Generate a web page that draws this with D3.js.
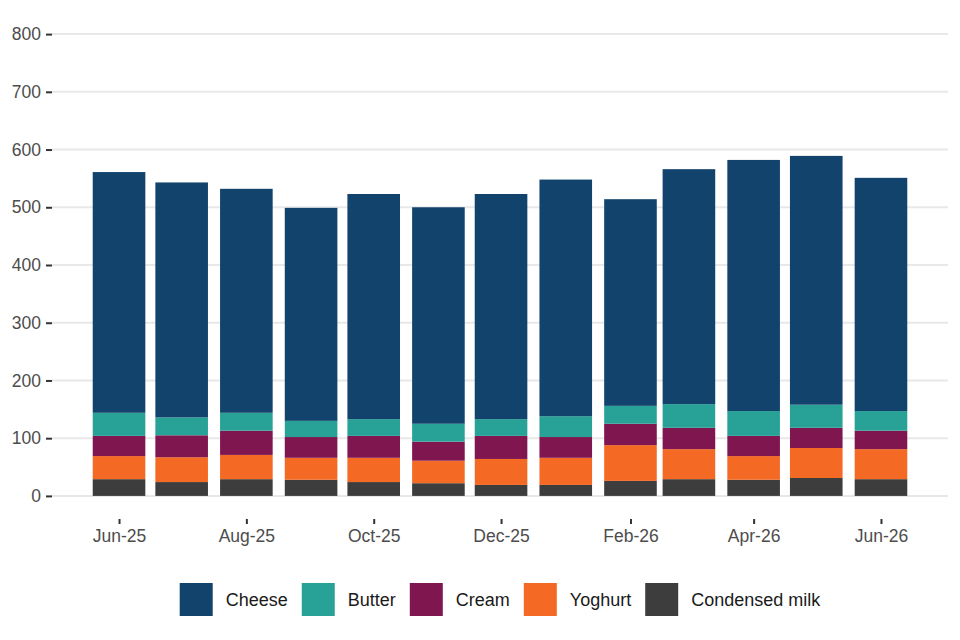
<!DOCTYPE html>
<html>
<head>
<meta charset="utf-8">
<script src="https://cdn.jsdelivr.net/npm/d3@7"></script>
<style>
  body { margin: 0; background: #fff; }
  svg { font-family: "Liberation Sans", Arial, sans-serif; }
</style>
</head>
<body>
<div id="chart"></div>
<script>
// monthly values
const months = ["2025-06", "2025-07", "2025-08", "2025-09", "2025-10", "2025-11", "2025-12",
  "2026-01", "2026-02", "2026-03", "2026-04", "2026-05", "2026-06"];
const cheese = [417, 407, 388, 369, 390, 375, 390, 410, 358, 407, 435, 431, 404];
const butter = [40, 31, 31, 28, 29, 31, 29, 36, 31, 41, 43, 40, 34];
const cream = [35, 38, 42, 36, 38, 33, 40, 36, 37, 37, 35, 35, 32];
const yoghurt = [40, 43, 42, 38, 42, 39, 45, 47, 62, 52, 41, 52, 52];
const condensed = [29, 24, 29, 28, 24, 22, 19, 19, 26, 29, 28, 31, 29];
const yTicks = [0, 100, 200, 300, 400, 500, 600, 700, 800];

const legendKeys = ["Cheese", "Butter", "Cream", "Yoghurt", "Condensed milk"];
const stackKeys = ["Condensed milk", "Yoghurt", "Cream", "Butter", "Cheese"];
const colors = {
  "Cheese": "#12436D",
  "Butter": "#28A197",
  "Cream": "#801650",
  "Yoghurt": "#F46A25",
  "Condensed milk": "#3D3D3D",
};

const W = 960, H = 640;
const panel = { left: 52, right: 948, top: 11, bottom: 519 };

const parse = d3.utcParse("%Y-%m");
const data = months.map((m, i) => ({
  date: parse(m),
  "Cheese": cheese[i],
  "Butter": butter[i],
  "Cream": cream[i],
  "Yoghurt": yoghurt[i],
  "Condensed milk": condensed[i],
}));

const DAY = 24 * 3600 * 1000;
// bar width: 0.9 of the smallest gap between months (28 days)
const minGap = d3.min(d3.pairs(data, (a, b) => b.date - a.date));
const barW = 0.9 * minGap;

// ggplot-like 5% expansion
const x0 = +data[0].date - barW / 2, x1 = +data[data.length - 1].date + barW / 2;
const xPad = (x1 - x0) * 0.05;
const x = d3.scaleUtc()
  .domain([new Date(x0 - xPad), new Date(x1 + xPad)])
  .range([panel.left, panel.right]);

const yPad = 800 * 0.05;
const y = d3.scaleLinear()
  .domain([-yPad, 800 + yPad])
  .range([panel.bottom, panel.top]);

const svg = d3.select("#chart").append("svg")
  .attr("width", W)
  .attr("height", H);

// gridlines
svg.append("g")
  .selectAll("line")
  .data(yTicks)
  .join("line")
  .attr("x1", panel.left)
  .attr("x2", panel.right)
  .attr("y1", (d) => y(d))
  .attr("y2", (d) => y(d))
  .attr("stroke", "#E8E8E8")
  .attr("stroke-width", 2);

// stacked bars
const series = d3.stack().keys(stackKeys)(data);
svg.append("g")
  .selectAll("g")
  .data(series)
  .join("g")
  .attr("fill", (s) => colors[s.key])
  .selectAll("rect")
  .data((s) => s)
  .join("rect")
  .attr("x", (d) => x(new Date(+d.data.date - barW / 2)))
  .attr("width", (d) => x(new Date(+d.data.date + barW / 2)) - x(new Date(+d.data.date - barW / 2)))
  .attr("y", (d) => y(d[1]))
  .attr("height", (d) => y(d[0]) - y(d[1]));

// y axis
const yAxis = svg.append("g")
  .attr("transform", `translate(${panel.left},0)`)
  .call(d3.axisLeft(y).tickValues(yTicks).tickSize(6).tickPadding(5));
yAxis.select(".domain").remove();
yAxis.selectAll(".tick line").attr("stroke", "#333").attr("stroke-width", 2);
yAxis.selectAll(".tick text")
  .attr("fill", "#4D4D4D")
  .style("font-size", "17.5px")
  .style("font-family", "Liberation Sans, Arial, sans-serif");

// x axis
const xTicks = data.filter((d, i) => i % 2 === 0).map((d) => d.date);
const xAxis = svg.append("g")
  .attr("transform", `translate(0,${panel.bottom})`)
  .call(d3.axisBottom(x).tickValues(xTicks).tickFormat(d3.utcFormat("%b-%y")).tickSize(5).tickPadding(6));
xAxis.select(".domain").remove();
xAxis.selectAll(".tick line").attr("stroke", "#333").attr("stroke-width", 2);
xAxis.selectAll(".tick text")
  .attr("fill", "#4D4D4D")
  .style("font-size", "17.5px")
  .style("font-family", "Liberation Sans, Arial, sans-serif");

// legend, centred under the panel
const key = 33, textGap = 13, itemGap = 14, legendY = 583;
const legend = svg.append("g");
const items = legend.selectAll("g")
  .data(legendKeys)
  .join("g");
items.append("rect")
  .attr("width", key)
  .attr("height", key)
  .attr("fill", (d) => colors[d]);
items.append("text")
  .attr("x", key + textGap)
  .attr("y", key / 2)
  .attr("dy", "0.36em")
  .attr("fill", "#1A1A1A")
  .style("font-size", "18px")
  .text((d) => d);

let cursor = 0;
items.each(function () {
  const g = d3.select(this);
  const tw = g.select("text").node().getComputedTextLength();
  g.attr("transform", `translate(${cursor},0)`);
  cursor += key + textGap + tw + itemGap;
});
const legendW = cursor - itemGap;
const cx = (panel.left + panel.right) / 2;
legend.attr("transform", `translate(${cx - legendW / 2},${legendY})`);
</script>
</body>
</html>
